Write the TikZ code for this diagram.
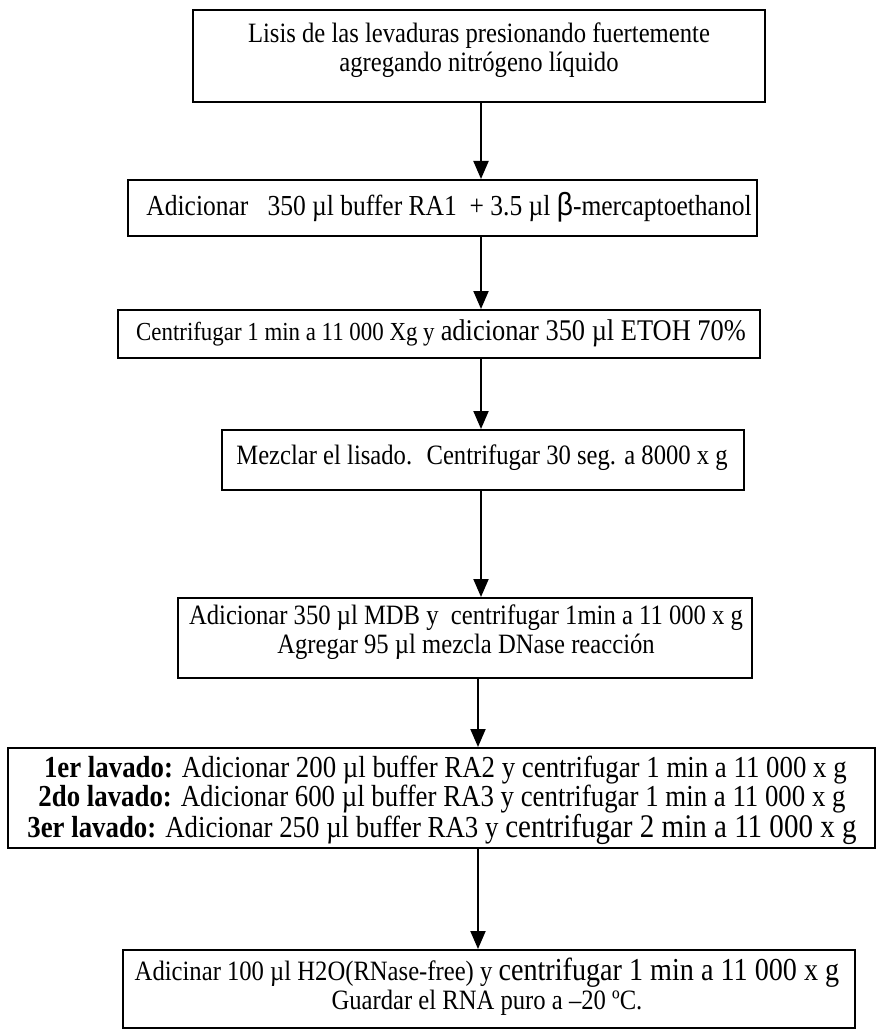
\documentclass[tikz,border=0pt]{standalone}
\usepackage{fontspec}
\setmainfont{Liberation Serif}[FakeStretch=0.88]
\newfontfamily\betafont{Liberation Sans}[FakeStretch=0.88]
\usetikzlibrary{arrows.meta}
\newcommand{\bigtxt}[1]{{\fontsize{32}{29}\selectfont #1}}
\begin{document}
\begin{tikzpicture}[x=1pt,y=-1pt,
  box/.style={draw, line width=2pt, rectangle, inner sep=0pt},
  txt/.style={inner sep=0pt, align=center, font=\fontsize{28}{29}\selectfont},
  arr/.style={line width=2pt, -{Triangle[width=15pt,length=18pt]}}]
\useasboundingbox (0,0) rectangle (883,1032);
\coordinate (ax) at (481,0);
\coordinate (bx) at (478,0);
% boxes
\node[box, minimum width=572pt, minimum height=92pt] (b1) at (479,56) {};
\node[box, minimum width=629pt, minimum height=56pt] (b2) at (442.5,208) {};
\node[box, minimum width=642pt, minimum height=48pt] (b3) at (439,334) {};
\node[box, minimum width=522pt, minimum height=60pt] (b4) at (483,460) {};
\node[box, minimum width=574pt, minimum height=80pt] (b5) at (465,638) {};
\node[box, minimum width=867pt, minimum height=100pt] (b6) at (441.5,798) {};
\node[box, minimum width=732pt, minimum height=78pt] (b7) at (489,989) {};
% texts
\node[txt] (t1) at (479,50)
  {Lisis de las levaduras presionando fuertemente\\agregando nitrógeno líquido};
\node[txt, font=\fontsize{29}{29}\selectfont] (t2) at (449,207)
  {Adicionar \ \ 350 µl buffer RA1 \ + 3.5 µl {\betafont\fontsize{32}{29}\selectfont β}-mercaptoethanol};
\node[txt] (t3) at (441,333)
  {{\fontsize{26}{29}\selectfont Centrifugar 1 min a 11 000 Xg y} {\fontsize{30}{29}\selectfont adicionar 350 µl ETOH 70\%}};
\node[txt] (t4) at (482,458)
  {Mezclar el lisado. \ Centrifugar 30 seg. a 8000 x g};
\node[txt] (t5) at (466,632)
  {Adicionar 350 µl MDB y \ centrifugar 1min a 11 000 x g\\Agregar 95 µl mezcla DNase reacción};
\node[txt, font=\fontsize{30.5}{25}\selectfont] (t6) at (442,800)
  {\ \textbf{1er lavado:} Adicionar 200 µl buffer RA2 y centrifugar 1 min a 11 000 x g\\
   \textbf{2do lavado:} Adicionar 600 µl buffer RA3 y centrifugar 1 min a 11 000 x g\\
   \textbf{3er lavado:} Adicionar 250 µl buffer RA3 y {\fontsize{33}{25}\selectfont centrifugar 2 min a 11 000 x g}};
\node[txt] (t7) at (487,987)
  {Adicinar 100 µl H2O(RNase-free) y \bigtxt{centrifugar 1 min a 11 000 x g}\\
   Guardar el RNA puro a –20 ºC.};
% connectors
\draw[arr] (b1.south -| ax) -- (b2.north -| ax);
\draw[arr] (b2.south -| ax) -- (b3.north -| ax);
\draw[arr] (b3.south -| ax) -- (b4.north -| ax);
\draw[arr] (b4.south -| ax) -- (b5.north -| ax);
\draw[arr] (b5.south -| bx) -- (b6.north -| bx);
\draw[arr] (b6.south -| bx) -- (b7.north -| bx);
\end{tikzpicture}
\end{document}
